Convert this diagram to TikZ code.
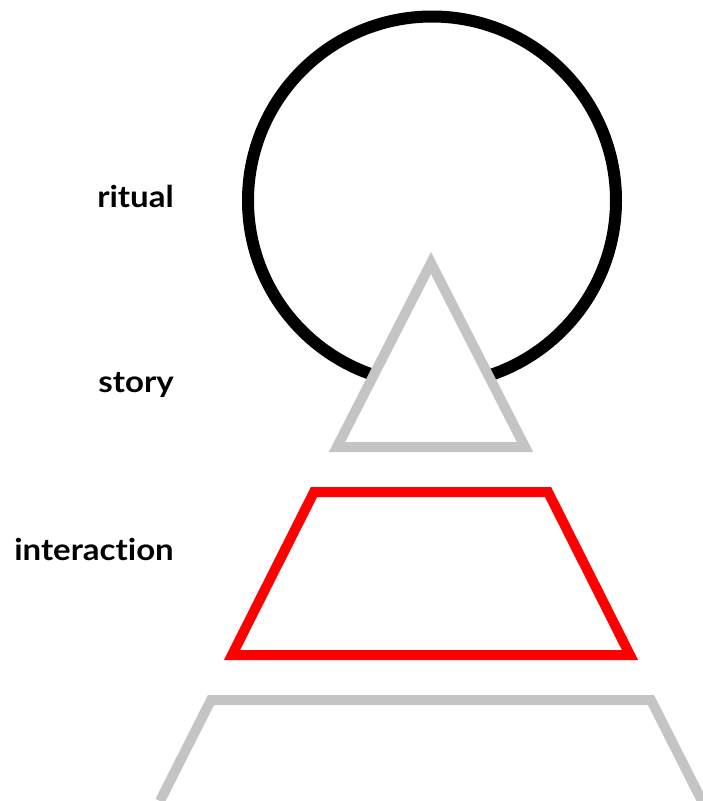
\documentclass[tikz,border=0pt]{standalone}
\usepackage{fontspec}
\setmainfont{Lato}[Ligatures={NoCommon},FakeStretch=1.1]
\usepackage{xcolor}
\usepackage{tikz}
\definecolor{ritualSiyah}{HTML}{000000}
\definecolor{hikayeGri}{HTML}{C4C4C4}
\definecolor{etkilesimKirmizi}{HTML}{FF0000}
\tikzset{
  etiket/.style={anchor=base east,inner sep=0pt,font=\fontsize{30}{32}\selectfont\bfseries},
}
\begin{document}
\begin{tikzpicture}[x=1pt,y=-1pt]
\useasboundingbox (0,0) rectangle (703,801);
\clip (0,0) rectangle (703,801);
% katmanlar
\draw[ritualSiyah,line width=12pt] (432,200.5) circle (184);
\filldraw[fill=white,draw=hikayeGri,line width=10pt] (431,263)--(525,447)--(337,447)--cycle;
\draw[etkilesimKirmizi,line width=10pt] (314,492)--(548,492)--(630,655)--(232,655)--cycle;
\draw[hikayeGri,line width=10pt] (160,801)--(211,700)--(651,700)--(702,801);
% etiketler
\node[etiket] (ritual) at (174,207) {ritual};
\node[etiket] (story) at (174,392) {story};
\node[etiket] (interaction) at (174,560) {interaction};
\end{tikzpicture}
\end{document}
